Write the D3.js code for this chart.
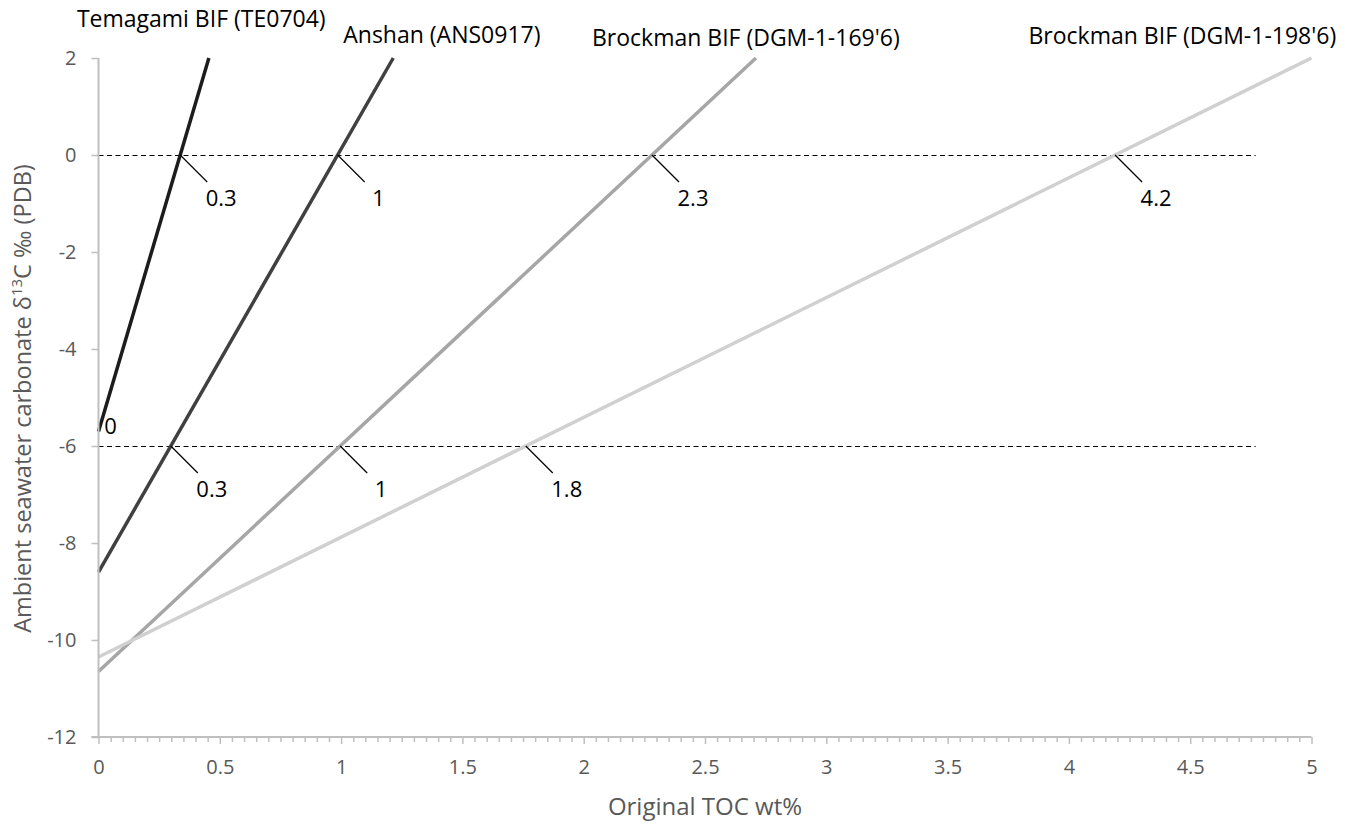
<!DOCTYPE html>
<html><head><meta charset="utf-8">
<script src="https://cdn.jsdelivr.net/npm/d3@7"></script>
<style>body{margin:0;background:#fff} svg{display:block} text{font-family:"Open Sans",sans-serif}</style>
</head><body><svg id="c" width="1358" height="824"></svg>
<script>
// ---- data ----
const seriesNames = ["Temagami BIF (TE0704)", "Anshan (ANS0917)", "Brockman BIF (DGM-1-169'6)", "Brockman BIF (DGM-1-198'6)"];
const seriesX = [[0, 0.455], [0, 1.215], [0, 2.71], [0, 5]];
const seriesY = [[-5.7, 2], [-8.6, 2], [-10.65, 2], [-10.35, 2]];
const refLevels = [0, -6];
const refXRange = [0, 4.77];
const labelsAtLevel0 = ["0.3", "1", "2.3", "4.2"];
const labelsAtLevelM6 = ["0", "0.3", "1", "1.8"];
const xTickValues = [0, 0.5, 1, 1.5, 2, 2.5, 3, 3.5, 4, 4.5, 5];
const yTickValues = [-12, -10, -8, -6, -4, -2, 0, 2];
const xTitle = "Original TOC wt%";

// ---- styles / layout ----
const seriesColors = ["#1c1c1c", "#404040", "#a6a6a6", "#d0d0d0"];
const nameOffsets = [[-132, -31], [-50, -15], [-164, -12], [-283, -14]];
const axisColor = "#bfbfbf", textGray = "#595959";

const svg = d3.select("#c");
const x = d3.scaleLinear().domain([0, 5]).range([98.5, 1311.5]);
const y = d3.scaleLinear().domain([-12, 2]).range([737, 58]);

const series = seriesNames.map((n, i) => ({
  name: n, color: seriesColors[i],
  pts: seriesX[i].map((xv, j) => [xv, seriesY[i][j]])
}));

// reference dashed lines
svg.append("g").selectAll("line").data(refLevels).join("line")
  .attr("x1", x(refXRange[0])).attr("x2", x(refXRange[1]))
  .attr("y1", d => Math.round(y(d)) + 0.5).attr("y2", d => Math.round(y(d)) + 0.5)
  .attr("stroke", "#000").attr("stroke-width", 1).attr("stroke-dasharray", "5,3.5");

// series lines
const line = d3.line().x(d => x(d[0])).y(d => y(d[1]));
svg.append("g").selectAll("path").data(series).join("path")
  .attr("d", d => line(d.pts)).attr("fill", "none")
  .attr("stroke", d => d.color).attr("stroke-width", 3.5);

// series names
svg.append("g").selectAll("text").data(series).join("text")
  .attr("x", (d, i) => x(d.pts[1][0]) + nameOffsets[i][0])
  .attr("y", (d, i) => y(d.pts[1][1]) + nameOffsets[i][1])
  .attr("font-size", 23).attr("fill", "#000").text(d => d.name);

// crossing labels
function crossX(s, level) {
  const [a, b] = s.pts;
  return a[0] + (level - a[1]) * (b[0] - a[0]) / (b[1] - a[1]);
}
const crossData = [];
[labelsAtLevel0, labelsAtLevelM6].forEach((labs, k) => {
  labs.forEach((lab, i) => {
    crossData.push({ level: refLevels[k], xv: crossX(series[i], refLevels[k]), lab, s: series[i] });
  });
});
const gl = svg.append("g");
crossData.forEach(d => {
  if (d.xv >= 0) {
    const px = x(d.xv), py = y(d.level);
    gl.append("line").attr("x1", px).attr("y1", py).attr("x2", px + 27).attr("y2", py + 27)
      .attr("stroke", "#000").attr("stroke-width", 1.2);
    gl.append("text").attr("x", px + 41).attr("y", py + 51).attr("text-anchor", "middle")
      .attr("font-size", 22).attr("fill", "#000").text(d.lab);
  } else {
    const px = x(d.s.pts[0][0]), py = y(d.s.pts[0][1]);
    gl.append("text").attr("x", px + 12).attr("y", py + 3).attr("text-anchor", "middle")
      .attr("font-size", 22).attr("fill", "#000").text(d.lab);
  }
});

// axes
const yAxis = d3.axisLeft(y).tickValues(yTickValues).tickSize(7).tickPadding(15).tickFormat(d3.format("d"));
const gy = svg.append("g").attr("transform", `translate(${x(0)},0)`).call(yAxis);
gy.select(".domain").attr("stroke", axisColor).attr("stroke-width", 2).attr("d", `M0,${y(2)}V${y(-12)}`);
gy.selectAll(".tick line").attr("stroke", axisColor).attr("stroke-width", 1.5);
gy.selectAll(".tick text").attr("fill", textGray).attr("font-size", 20).attr("font-family", "Open Sans").text(d => d < 0 ? "-" + Math.abs(d) : d);

const minorTicks = d3.range(0, 101).map(i => i * 0.05).filter(v => Math.abs(v * 2 - Math.round(v * 2)) > 1e-6);
const gxm = svg.append("g").attr("transform", `translate(0,${y(-12)})`)
  .call(d3.axisBottom(x).tickValues(minorTicks).tickSize(5).tickFormat(""));
gxm.select(".domain").remove();
gxm.selectAll(".tick line").attr("stroke", axisColor).attr("stroke-width", 1.5);

const gx = svg.append("g").attr("transform", `translate(0,${y(-12)})`)
  .call(d3.axisBottom(x).tickValues(xTickValues).tickSize(7).tickPadding(16).tickFormat(d => d));
gx.select(".domain").attr("stroke", axisColor).attr("stroke-width", 2).attr("d", `M${x(0) - 7},0H${x(5)}`);
gx.selectAll(".tick line").attr("stroke", axisColor).attr("stroke-width", 1.5);
gx.selectAll(".tick text").attr("fill", textGray).attr("font-size", 20).attr("font-family", "Open Sans");

// axis titles
svg.append("text").attr("x", (x(0) + x(5)) / 2).attr("y", 815).attr("text-anchor", "middle")
  .attr("font-size", 24).attr("fill", textGray).text(xTitle);
const yt = svg.append("text").attr("transform", `translate(31,${(y(2) + y(-12)) / 2 + 1}) rotate(-90)`).attr("text-anchor", "middle")
  .attr("font-size", 23.5).attr("fill", textGray);
yt.append("tspan").text("Ambient seawater carbonate δ");
yt.append("tspan").attr("font-size", 15).attr("dy", -9).text("13");
yt.append("tspan").attr("dy", 9).text("C ‰ (PDB)");
</script></body></html>
